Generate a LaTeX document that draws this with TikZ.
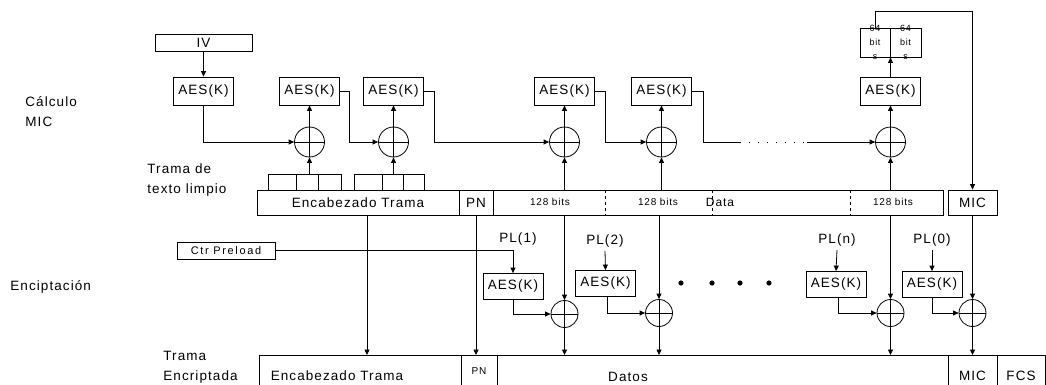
\documentclass[tikz,border=0pt]{standalone}
\usepackage{fontspec}
\setmainfont{Liberation Sans}[LetterSpace=8]
\newfontfamily\spaced{Liberation Sans}[LetterSpace=15]
\usetikzlibrary{arrows.meta}
\begin{document}
\begin{tikzpicture}[x=1pt,y=-1pt, line width=0.8pt,
  font=\fontsize{13.5}{16}\selectfont,
  box/.style={draw, inner sep=0pt},
  aes/.style={box, minimum width=60pt, minimum height=28pt},
  aesl/.style={box, minimum width=60pt, minimum height=26pt},
  xorbase/.style={draw, circle, inner sep=0pt, path picture={\draw (path picture bounding box.north) -- (path picture bounding box.south) (path picture bounding box.west) -- (path picture bounding box.east);}},
  xor/.style={xorbase, minimum size=30pt},
  xorl/.style={xorbase, minimum size=27pt},
  arr/.style={-{Triangle[length=5.5pt,width=5pt]}},
  lbl/.style={anchor=west, align=left, inner sep=0pt},
  small/.style={font=\fontsize{10}{12}\selectfont},
  tiny/.style={font=\fontsize{9}{14}\selectfont, align=center, inner sep=0pt}]
\useasboundingbox (0,0) rectangle (1046,385);

% ---------- left labels ----------
\node[lbl, font=\fontsize{13.5}{20}\selectfont] (lcalc) at (25,112) {Cálculo\\MIC};
\node[lbl, font=\fontsize{13.5}{20}\selectfont] (ltexto) at (147,180) {Trama de\\texto limpio};
\node[lbl] (lenc) at (10,287) {Enciptación};
\node[lbl, font=\fontsize{13.5}{20}\selectfont] (lencr) at (163,367) {Trama\\Encriptada};

% ---------- MIC calculation row ----------
\node[box, minimum width=97pt, minimum height=17pt] (iv) at (203.5,42.5) {IV};
\node[aes] (a1) at (203.5,91) {AES(K)};
\node[aes] (a2) at (309.5,91) {AES(K)};
\node[aes] (a3) at (393.5,91) {AES(K)};
\node[aes] (a4) at (564.5,91) {AES(K)};
\node[aes] (a5) at (661.5,91) {AES(K)};
\node[aes] (a6) at (890.5,91) {AES(K)};
\node[xor] (c1) at (309.5,142) {};
\node[xor] (c2) at (393.5,142) {};
\node[xor] (c3) at (564.5,142) {};
\node[xor] (c4) at (661.5,142) {};
\node[xor] (c6) at (890.5,142) {};
\node[box, minimum width=30pt, minimum height=29pt] (b1) at (875,42.5) {};
\node[box, minimum width=31pt, minimum height=29pt] (b2) at (905.5,42.5) {};
\node[tiny] (t1) at (875,42.5) {64\\bit\\s};
\node[tiny] (t2) at (905.5,42.5) {64\\bit\\s};

% small header blocks
\node[box, minimum width=73pt, minimum height=16pt] (sg1) at (304.5,182) {};
\draw (296,174) -- (296,190) (318,174) -- (318,190);
\node[box, minimum width=70pt, minimum height=16pt] (sg2) at (389,182) {};
\draw (382,174) -- (382,190) (403,174) -- (403,190);

% ---------- plaintext frame ----------
\node[box, minimum width=202pt, minimum height=25pt] (hdr) at (358,202.5) {Encabezado Trama};
\node[box, minimum width=34pt, minimum height=25pt] (pn) at (476,202.5) {PN};
\node[box, minimum width=450pt, minimum height=25pt] (data) at (718,202.5) {};
\node[box, minimum width=49pt, minimum height=25pt] (mic) at (972.5,202.5) {MIC};
\draw[dashed] (605,190) -- (605,215) (712,190) -- (712,215) (850,190) -- (850,215);
\node[small] (d1) at (550,202) {128 bits};
\node[small] (d2) at (658,202) {128 bits};
\node[font=\fontsize{12}{14}\selectfont] (d3) at (720,202) {Data};
\node[small] (d4) at (893,202) {128 bits};

% ---------- MIC chain connectors ----------
\draw[arr] (iv.south) -- (a1.north);
\draw[arr] (a1.south) |- (c1.west);
\draw[arr] (c1.north) -- (a2.south);
\draw[arr] (a2.east) -- ++(9,0) |- (c2.west);
\draw[arr] (c2.north) -- (a3.south);
\draw[arr] (a3.east) -- ++(10,0) |- (c3.west);
\draw[arr] (c3.north) -- (a4.south);
\draw[arr] (a4.east) -- ++(10,0) |- (c4.west);
\draw[arr] (c4.north) -- (a5.south);
\coordinate (p1) at (740,142);
\coordinate (p2) at (807,142);
\draw (a5.east) -- ++(11,0) |- (p1);
\draw[dash pattern=on 1pt off 8pt] (p1) -- (p2);
\draw[arr] (p2) -- (c6.west);
\draw[arr] (c6.north) -- (a6.south);
\draw[arr] (a6.north) -- (a6.north |- b1.south);
\draw[arr] (b1.north) -- ++(0,-16) -| (mic.north);
\draw[arr] (c1.south |- sg1.north) -- (c1.south);
\draw[arr] (c2.south |- sg2.north) -- (c2.south);
\draw[arr] (c3.south |- data.north) -- (c3.south);
\draw[arr] (c4.south |- data.north) -- (c4.south);
\draw[arr] (c6.south |- data.north) -- (c6.south);

% ---------- encryption row ----------
\node[box, minimum width=98pt, minimum height=17pt, font=\spaced\fontsize{11}{13}\selectfont] (ctr) at (226,250.5) {Ctr Preload};
\node (pl1) at (518,239) {PL(1)};
\node (pl2) at (605,241) {PL(2)};
\node (pln) at (837,240) {PL(n)};
\node (pl0) at (932,240) {PL(0)};
\node[aesl] (a7) at (513,286.5) {AES(K)};
\node[aesl] (a8) at (605.5,283.5) {AES(K)};
\node[aesl] (a9) at (836,284.5) {AES(K)};
\node[aesl] (a10) at (932,284.5) {AES(K)};
\node[xorl] (c7) at (564.5,314) {};
\node[xorl] (c8) at (659,313) {};
\node[xorl] (c9) at (890.5,313) {};
\node[xorl] (c10) at (972.5,313) {};
\foreach \x in {681,712,740,769} \fill (\x,283) circle (2.6pt);

\draw[arr] (ctr.east) -| (a7.north);
\draw[arr] (pl2.south) -- (a8.north);
\draw[arr] (pln.south) -- (a9.north);
\draw[arr] (pl0.south) -- (a10.north);
\draw[arr] (a7.south) |- (c7.west);
\draw[arr] ([xshift=1.5pt]a8.south) |- (c8.west);
\draw[arr] ([xshift=2pt]a9.south) |- (c9.west);
\draw[arr] (a10.south) |- (c10.west);
\draw[arr] (c7.north |- data.south) -- (c7.north);
\draw[arr] (c8.north |- data.south) -- (c8.north);
\draw[arr] (c9.north |- data.south) -- (c9.north);
\draw[arr] (mic.south) -- (c10.north);

% ---------- encrypted frame ----------
\coordinate (low) at (0,355);
\draw (259,385) |- (1045,355) -- (1045,385);
\draw (461,355) -- (461,385) (497,355) -- (497,385) (948,355) -- (948,385) (997,355) -- (997,385);
\node (ehdr) at (337,376) {Encabezado Trama};
\node[small] (epn) at (479,371) {PN};
\node (edat) at (628,377) {Datos};
\node (emic) at (972.5,376) {MIC};
\node (efcs) at (1021,376) {FCS};

\draw[arr] ([xshift=9pt]hdr.south) -- ([xshift=9pt]hdr.south |- low);
\draw[arr] (pn.south) -- (pn.south |- low);
\draw[arr] (c7.south) -- (c7.south |- low);
\draw[arr] (c8.south) -- (c8.south |- low);
\draw[arr] (c9.south) -- (c9.south |- low);
\draw[arr] (c10.south) -- (c10.south |- low);
\end{tikzpicture}
\end{document}
